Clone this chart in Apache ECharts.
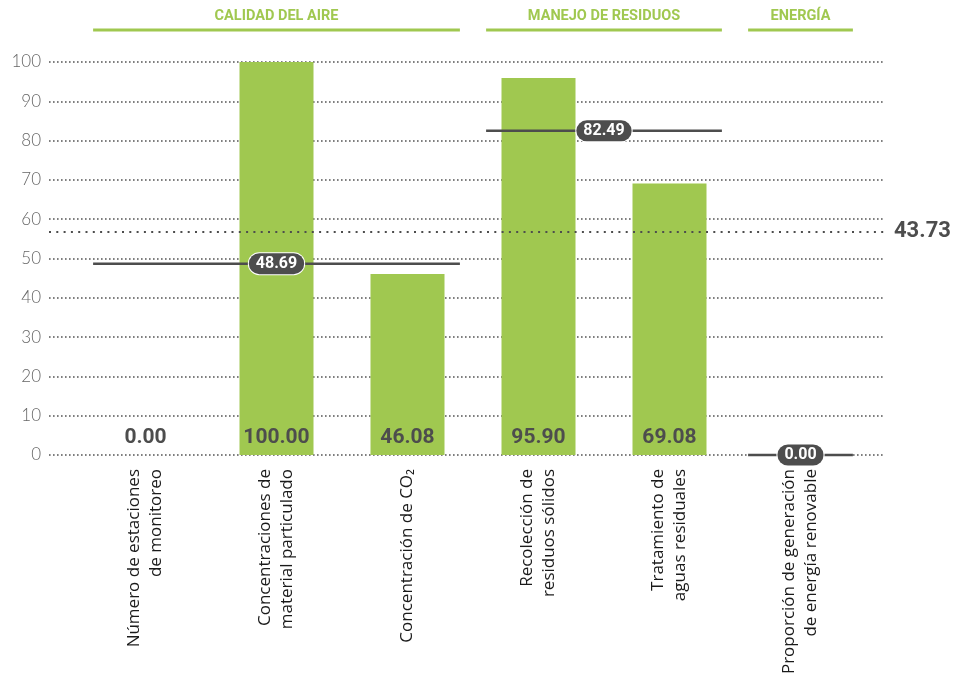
<!DOCTYPE html>
<html>
<head>
<meta charset="utf-8">
<script src="https://cdn.jsdelivr.net/npm/echarts@6/dist/echarts.min.js"></script>
<style>html,body{margin:0;padding:0;background:#fff;}#c{width:956px;height:685px;}</style>
</head>
<body>
<div id="c"></div>
<script>
const categories = [
  'Número de estaciones\nde monitoreo',
  'Concentraciones de\nmaterial particulado',
  'Concentración de CO₂',
  'Recolección de\nresiduos sólidos',
  'Tratamiento de\naguas residuales',
  'Proporción de generación\nde energía renovable'
];
const values = [0, 100, 46.08, 95.90, 69.08, 0];
const showBarLabel = [true, true, true, true, true, false];
const groupNames = ['CALIDAD DEL AIRE', 'MANEJO DE RESIDUOS', 'ENERGÍA'];
const groupStart = [0, 3, 5];
const groupEnd = [3, 5, 6];
const groupAvg = [48.69, 82.49, 0];
const overallLabel = 43.73;
const overallLinePos = 56.8;
const yMin = 0, yMax = 100, yStep = 10;

const GREEN = '#a0c850';
const DARK = '#4d4d4d';
const inset = 0.1;

const series = [];

// bars
series.push({
  type: 'bar', xAxisIndex: 1, yAxisIndex: 1, barWidth: 74, z: 2,
  data: values.map((v, i) => ({
    value: v,
    label: { show: showBarLabel[i] }
  })),
  itemStyle: { color: GREEN },
  label: {
    position: 'insideBottom', distance: 7,
    formatter: p => p.value.toFixed(2),
    color: DARK, fontFamily: 'Roboto', fontWeight: 700, fontSize: 21
  }
});

// overall line (grid A)
series.push({
  type: 'line', xAxisIndex: 0, yAxisIndex: 0, data: [], z: 6,
  markLine: {
    silent: true, symbol: 'none',
    data: [{ yAxis: overallLinePos }],
    lineStyle: { color: DARK, width: 2, type: [2, 5.3] },
    label: {
      position: 'end', distance: 10,
      formatter: overallLabel.toFixed(2),
      color: DARK, fontFamily: 'Roboto', fontWeight: 700, fontSize: 22
    }
  }
});

// group average lines
groupAvg.forEach((a, g) => {
  series.push({
    type: 'line', xAxisIndex: 2, yAxisIndex: 1, z: 8, clip: false,
    symbol: 'none', silent: true,
    data: [[groupStart[g] + inset, a], [groupEnd[g] - inset, a]],
    lineStyle: { color: DARK, width: 2.5 }
  });
});

// average pills
series.push({
  type: 'scatter', xAxisIndex: 2, yAxisIndex: 1, z: 10, clip: false,
  symbolSize: 1, itemStyle: { color: 'rgba(0,0,0,0)', opacity: 1 },
  data: groupAvg.map((a, g) => [(groupStart[g] + groupEnd[g]) / 2, a]),
  label: {
    show: true, position: 'inside',
    formatter: p => p.value[1].toFixed(2),
    color: '#fff', fontFamily: 'Roboto', fontWeight: 700, fontSize: 16,
    backgroundColor: DARK, borderRadius: 11, padding: [3, 7, 2, 7],
    borderColor: '#fff', borderWidth: 1
  }
});

// header lines
groupNames.forEach((n, g) => {
  series.push({
    type: 'line', xAxisIndex: 3, yAxisIndex: 2, clip: false,
    symbol: 'none', silent: true,
    data: [[groupStart[g] + inset, 0], [groupEnd[g] - inset, 0]],
    lineStyle: { color: GREEN, width: 3 }
  });
});
// header text
series.push({
  type: 'scatter', xAxisIndex: 3, yAxisIndex: 2, clip: false,
  symbolSize: 1, itemStyle: { color: 'rgba(0,0,0,0)', opacity: 1 },
  data: groupNames.map((n, g) => ({ value: [(groupStart[g] + groupEnd[g]) / 2, 0.47], name: n })),
  label: {
    show: true, position: 'inside', formatter: p => p.name,
    color: GREEN, fontFamily: 'Roboto', fontWeight: 700, fontSize: 14.5
  }
});

const chart = echarts.init(document.getElementById('c'), null, { renderer: 'canvas' });
chart.setOption({
  animation: false,
  grid: [
    { left: 49, right: 72, top: 62, bottom: 230 },
    { left: 80, right: 90, top: 62, bottom: 230 },
    { left: 80, right: 90, top: 0, height: 30 }
  ],
  xAxis: [
    { gridIndex: 0, type: 'value', min: 0, max: 1, show: false },
    {
      gridIndex: 1, type: 'category', data: categories,
      axisLine: { show: false }, axisTick: { show: false },
      axisLabel: {
        interval: 0, rotate: 90, margin: 14,
        color: '#1a1a1a', fontFamily: 'Open Sans', fontSize: 17, lineHeight: 22
      }
    },
    { gridIndex: 1, type: 'value', min: 0, max: categories.length, show: false },
    { gridIndex: 2, type: 'value', min: 0, max: categories.length, show: false }
  ],
  yAxis: [
    {
      gridIndex: 0, type: 'value', min: yMin, max: yMax, interval: yStep,
      axisLine: { show: false }, axisTick: { show: false },
      axisLabel: { margin: 8, color: '#666', fontFamily: 'Lato', fontWeight: 300, fontSize: 17 },
      splitLine: { show: true, lineStyle: { color: '#555', width: 1.6, type: [1.6, 2.4] } }
    },
    { gridIndex: 1, type: 'value', min: yMin, max: yMax, interval: yStep, show: false, splitLine: { show: false } },
    { gridIndex: 2, type: 'value', min: 0, max: 1, show: false }
  ],
  series
});
</script>
</body>
</html>
